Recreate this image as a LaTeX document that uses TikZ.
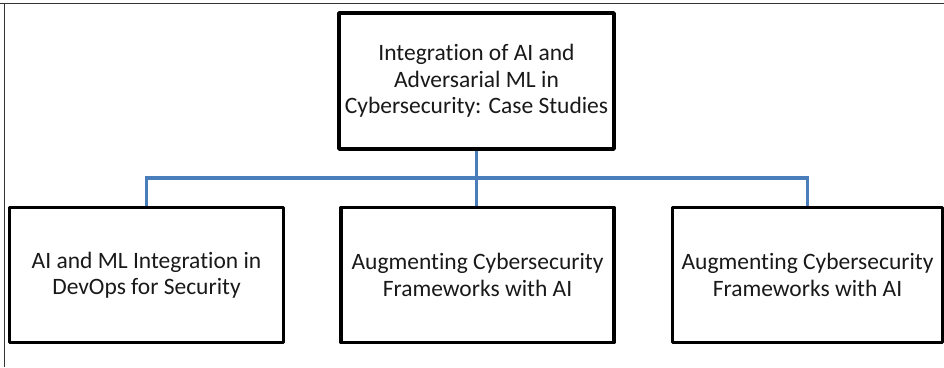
\documentclass[tikz,border=0pt]{standalone}
\usepackage{fontspec}
\setmainfont[Ligatures=NoCommon]{Carlito}
\definecolor{linkblue}{RGB}{74,126,187}
\definecolor{txt}{RGB}{25,25,25}
\begin{document}
\begin{tikzpicture}[x=1pt,y=-1pt,
  box/.style={draw=black, line width=3.6pt, line join=round, rectangle, align=center, inner sep=0pt,
    font=\fontsize{23.5}{26.5}\selectfont, text=txt},
  link/.style={draw=linkblue, line width=3.4pt}]
\useasboundingbox (0,0) rectangle (944,367);
\draw[line width=1pt, black!80] (0,3.5) -- (944,3.5);
\draw[line width=1pt, black!80] (4.5,3.5) -- (4.5,367);
\draw[link] (476.5,150) -- (476.5,178) coordinate (bus);
\node[box, minimum width=275pt, minimum height=136pt, fill=white] (top) at (476.5,81)
  {Integration of AI and\\Adversarial ML in\\Cybersecurity: Case Studies};
\node[box, minimum width=274pt, minimum height=135pt] (left) at (146.5,275)
  {AI and ML Integration in\\DevOps for Security};
\node[box, minimum width=273pt, minimum height=135pt] (mid) at (477.5,275)
  {Augmenting Cybersecurity\\Frameworks with AI};
\node[box, minimum width=270pt, minimum height=135pt] (right) at (807.5,275)
  {Augmenting Cybersecurity\\Frameworks with AI};
\draw[link] (top.south) -- (bus);
\draw[link] (bus) -| (left.north);
\draw[link] (bus) -- (bus |- mid.north);
\draw[link] (bus) -| (right.north);
\end{tikzpicture}
\end{document}
